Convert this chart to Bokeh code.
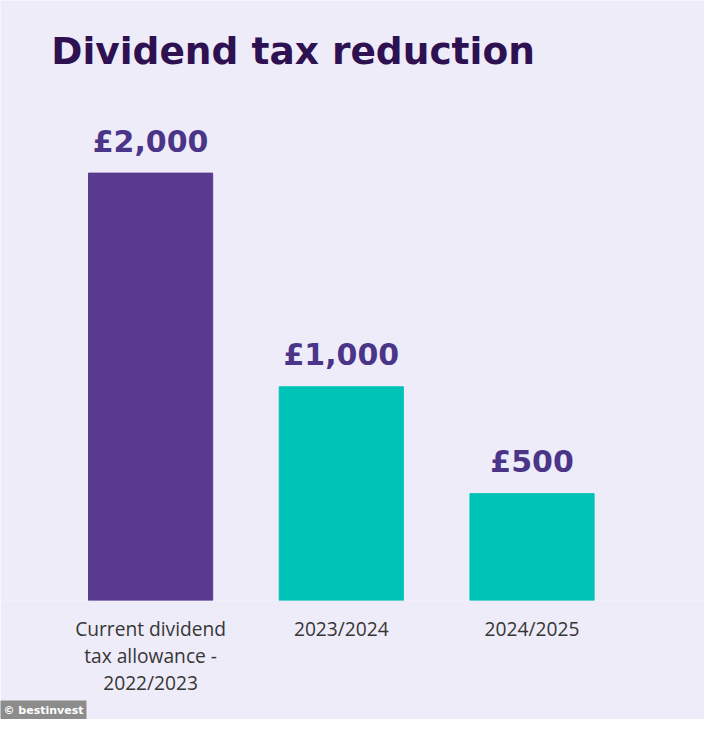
from bokeh.plotting import figure
from bokeh.models import Range1d, FixedTicker, Label, ColumnDataSource, Title
from bokeh.embed import file_html
from bokeh.resources import INLINE
from bokeh.core.properties import value

# Data
categories = ["Current dividend\ntax allowance -\n2022/2023", "2023/2024", "2024/2025"]
allowance = [2000, 1000, 500]
value_labels = ["£2,000", "£1,000", "£500"]
bar_colors = ["#593A8F", "#00C3B8", "#00C3B8"]
title_text = "Dividend tax reduction"
credit_text = "© bestinvest"

BG = "#EFECF9"
W, H = 704, 719
S = 0.978
BOTTOM = 119
frame_bottom = H - BOTTOM
px_per_unit = 437 * S / 2000
y_end = frame_bottom / px_per_unit
spacing = 195 * S
x_start = -150.1 / spacing
x_end = x_start + W / spacing

def xdata(px):
    return x_start + px / spacing

def ydata(py):
    return (frame_bottom - py) / px_per_unit

xpos = list(range(len(categories)))
src = ColumnDataSource(dict(x=xpos, top=allowance, color=bar_colors, lab=value_labels))

p = figure(width=W, height=H, output_backend="svg", toolbar_location=None,
           x_range=Range1d(x_start, x_end), y_range=Range1d(0, y_end),
           min_border_left=0, min_border_right=0, min_border_top=0, min_border_bottom=BOTTOM)
p.background_fill_color = BG
p.border_fill_color = BG
p.outline_line_color = None
p.grid.visible = False
p.yaxis.visible = False

p.vbar(x="x", top="top", bottom=0, width=0.651, color="color", source=src)

p.text(x="x", y="top", text="lab", source=src, text_align="center", text_baseline="alphabetic",
       y_offset=-32, text_font=value("DejaVu Sans"), text_font_style="bold",
       text_font_size="30px", text_color="#4B3589")

ax = p.xaxis[0]
ax.ticker = FixedTicker(ticks=xpos)
ax.major_label_overrides = {i: c for i, c in zip(xpos, categories)}
ax.axis_line_color = None
ax.major_tick_line_color = None
ax.minor_tick_line_color = None
ax.major_label_text_font = "Open Sans"
ax.major_label_text_font_size = "19.2px"
ax.major_label_text_line_height = 1.0
ax.major_label_text_color = "#363636"
ax.major_label_standoff = 8

title = Label(x=xdata(50.8), y=ydata(50.4), x_units="data", y_units="data",
              text=title_text, text_font="DejaVu Sans", text_font_style="bold",
              text_font_size="37.5px", text_color="#2D1150", text_baseline="middle")
p.add_layout(title)

credit = Title(text=credit_text, align="left", text_font="DejaVu Sans", text_font_style="bold",
               text_font_size="11px", text_color="#FFFFFF", background_fill_color="#8C8C8C",
               offset=0, standoff=0, padding=3)
p.add_layout(credit, "below")

open("out.html", "w").write(file_html(p, INLINE))
